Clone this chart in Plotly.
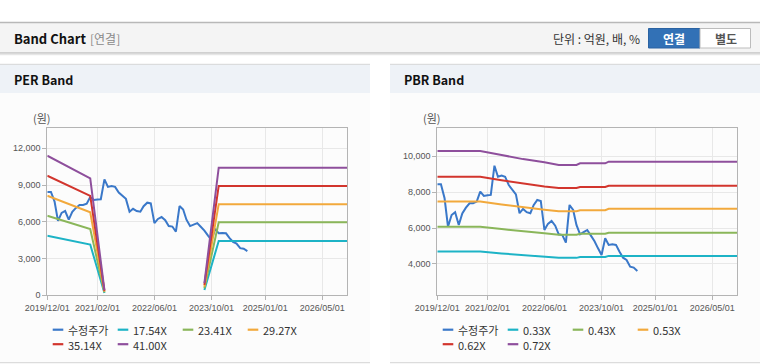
import pandas as pd
import plotly.graph_objects as go

# ---------------- data ----------------
price_start = "2019-12-01"
price = [8430, 8430, 7650, 6070, 6720, 6880, 6170, 6810, 7130, 7370, 7370, 7470,
         8020, 7780, 7820, 7840, 9460, 8850, 8910, 8850, 8390, 8110, 7870, 6820,
         7060, 6880, 6820, 7270, 7560, 7500, 5890, 6230, 6390, 6130, 5650, 5610,
         5190, 7280, 7000, 6170, 5650, 5770, 5890, 5590, 5280, 4870, 4500, 5430,
         5060, 5090, 5060, 4690, 4350, 4220, 3850, 3800, 3610]
price_dates = pd.date_range(price_start, periods=len(price), freq="MS")

per_names = ["17.54X", "23.41X", "29.27X", "35.14X", "41.00X"]
per_dates = ["2019-12-01", "2020-12-01", "2021-04-01", "2022-06-01",
             "2023-08-01", "2023-12-01", "2026-12-01"]
per_1754 = [4865, 4140, 180, None, 430, 4440, 4440]
per_2341 = [6498, 5400, 240, None, 570, 5960, 5960]
per_2927 = [8131, 6780, 300, None, 710, 7440, 7440]
per_3514 = [9763, 8120, 360, None, 850, 8930, 8930]
per_4100 = [11396, 9540, 420, None, 990, 10410, 10410]

pbr_names = ["0.33X", "0.43X", "0.53X", "0.62X", "0.72X"]
pbr_dates = ["2019-12-01", "2020-12-01", "2021-06-01", "2021-12-01", "2022-06-01",
             "2022-10-01", "2023-03-01", "2023-04-01", "2023-11-01", "2023-12-01",
             "2026-12-01"]
pbr_033 = [4690, 4690, 4587, 4484, 4404, 4340, 4340, 4385, 4385, 4450, 4450]
pbr_043 = [6075, 6075, 5941, 5808, 5704, 5630, 5630, 5680, 5680, 5740, 5740]
pbr_053 = [7470, 7470, 7306, 7141, 7014, 6930, 6930, 6990, 6990, 7070, 7070]
pbr_062 = [8850, 8850, 8655, 8461, 8310, 8220, 8220, 8280, 8280, 8345, 8345]
pbr_072 = [10280, 10280, 10054, 9828, 9653, 9500, 9500, 9591, 9591, 9684, 9684]

x_range = ["2019-12-01", "2026-12-01"]
x_tick_dates = ["2019-12-01", "2021-02-01", "2022-06-01", "2023-10-01", "2025-01-01", "2026-05-01"]
x_tick_labels = ["2019/12/01", "2021/02/01", "2022/06/01", "2023/10/01", "2025/01/01", "2026/05/01"]
per_y_ticks = [0, 3000, 6000, 9000, 12000]
pbr_y_ticks = [4000, 6000, 8000, 10000]
per_y_range = [0, 13630]
pbr_y_range = [2260, 11540]

price_name = "수정주가"
price_color = "#3a78c9"
band_colors = ["#1db3c6", "#8ab65a", "#f2a93c", "#d2352d", "#8e4f9c"]

# ---------------- layout helpers ----------------
W, H = 760, 364
def px(x):
    return x / W
def py(y):
    return 1 - y / H

FONT = "Noto Sans CJK KR"
TICKFONT = dict(family="Liberation Sans", size=9, color="#555555")

fig = go.Figure()

# PER traces
fig.add_trace(go.Scatter(x=price_dates, y=price, name=price_name, mode="lines",
                         line=dict(color=price_color, width=2), xaxis="x", yaxis="y",
                         showlegend=False))
for nm, vals, col in zip(per_names, [per_1754, per_2341, per_2927, per_3514, per_4100], band_colors):
    fig.add_trace(go.Scatter(x=per_dates, y=vals, name=nm, mode="lines",
                             line=dict(color=col, width=2), xaxis="x", yaxis="y",
                             connectgaps=False, showlegend=False))

# PBR traces
fig.add_trace(go.Scatter(x=price_dates, y=price, name=price_name, mode="lines",
                         line=dict(color=price_color, width=2), xaxis="x2", yaxis="y2",
                         showlegend=False))
for nm, vals, col in zip(pbr_names, [pbr_033, pbr_043, pbr_053, pbr_062, pbr_072], band_colors):
    fig.add_trace(go.Scatter(x=pbr_dates, y=vals, name=nm, mode="lines",
                             line=dict(color=col, width=2), xaxis="x2", yaxis="y2",
                             showlegend=False))

def xaxis_cfg(dom, anchor):
    return dict(domain=dom, anchor=anchor, type="date", range=x_range,
                tickvals=x_tick_dates, ticktext=x_tick_labels,
                showgrid=True, gridcolor="#e8e8e8", gridwidth=1,
                showline=True, linecolor="#b4b4b4", linewidth=1, mirror=True,
                ticks="outside", ticklen=4, tickcolor="#b4b4b4",
                tickfont=TICKFONT, zeroline=False, fixedrange=True, automargin=False)

def yaxis_cfg(dom, anchor, rng, tv):
    return dict(domain=dom, anchor=anchor, range=rng, tickvals=tv,
                tickformat=",d", showgrid=True, gridcolor="#e8e8e8", gridwidth=1,
                showline=True, linecolor="#b4b4b4", linewidth=1, mirror=True,
                ticks="outside", ticklen=4, tickcolor="#b4b4b4",
                tickfont=TICKFONT, zeroline=False, fixedrange=True, automargin=False)

ydom = [py(295.3), py(128.3)]
shapes = []
annotations = []

# top header bar
shapes.append(dict(type="rect", xref="paper", yref="paper", x0=0, x1=1, y0=py(53), y1=py(23),
                   fillcolor="#f4f4f4", line=dict(width=0), layer="below"))
shapes.append(dict(type="line", xref="paper", yref="paper", x0=0, x1=1, y0=py(22.5), y1=py(22.5),
                   line=dict(color="#b8b8b8", width=1.5), layer="below"))
shapes.append(dict(type="line", xref="paper", yref="paper", x0=0, x1=1, y0=py(53), y1=py(53),
                   line=dict(color="#c4c4c4", width=1.5), layer="below"))
shapes.append(dict(type="line", xref="paper", yref="paper", x0=0, x1=1, y0=py(54.5), y1=py(54.5),
                   line=dict(color="#e6e6e6", width=1.5), layer="below"))
annotations.append(dict(text="<b>Band Chart</b>", xref="paper", yref="paper", x=px(11.5), y=py(38.5),
                        xanchor="left", yanchor="middle", showarrow=False,
                        font=dict(family=FONT, size=13, color="#111111")))
annotations.append(dict(text="[연결]", xref="paper", yref="paper", x=px(88), y=py(38.5),
                        xanchor="left", yanchor="middle", showarrow=False,
                        font=dict(family=FONT, size=12, color="#8a8a8a")))
annotations.append(dict(text="단위 : 억원, 배, %", xref="paper", yref="paper", x=px(642), y=py(38.5),
                        xanchor="right", yanchor="middle", showarrow=False,
                        font=dict(family=FONT, size=12, color="#333333")))
# buttons
shapes.append(dict(type="rect", xref="paper", yref="paper", x0=px(648.5), x1=px(700), y0=py(48), y1=py(28.5),
                   fillcolor="#3271b6", line=dict(color="#2b63a2", width=1), layer="below"))
shapes.append(dict(type="rect", xref="paper", yref="paper", x0=px(700), x1=px(750.5), y0=py(48), y1=py(28.5),
                   fillcolor="#ffffff", line=dict(color="#bcbcbc", width=1), layer="below"))
annotations.append(dict(text="<b>연결</b>", xref="paper", yref="paper", x=px(674), y=py(38.5),
                        xanchor="center", yanchor="middle", showarrow=False,
                        font=dict(family=FONT, size=12, color="#ffffff")))
annotations.append(dict(text="<b>별도</b>", xref="paper", yref="paper", x=px(725.5), y=py(38.5),
                        xanchor="center", yanchor="middle", showarrow=False,
                        font=dict(family=FONT, size=12, color="#555555")))

# panels
for (x0, x1, title, plot_left, names) in [(0, 370, "PER Band", 47.3, per_names),
                                           (390, 760, "PBR Band", 437.3, pbr_names)]:
    shapes.append(dict(type="rect", xref="paper", yref="paper", x0=px(x0), x1=px(x1), y0=py(362), y1=py(93),
                       fillcolor="#fcfcfc", line=dict(width=0), layer="below"))
    shapes.append(dict(type="rect", xref="paper", yref="paper", x0=px(x0), x1=px(x1), y0=py(93), y1=py(64),
                       fillcolor="#eef2f7", line=dict(width=0), layer="below"))
    shapes.append(dict(type="line", xref="paper", yref="paper", x0=px(x0), x1=px(x1), y0=py(64.3), y1=py(64.3),
                       line=dict(color="#d6d6d6", width=1), layer="below"))
    shapes.append(dict(type="line", xref="paper", yref="paper", x0=px(x0), x1=px(x1), y0=py(362.7), y1=py(362.7),
                       line=dict(color="#dcdcdc", width=1.2), layer="below"))
    annotations.append(dict(text=f"<b>{title}</b>", xref="paper", yref="paper", x=px(x0 + 11.5), y=py(79),
                            xanchor="left", yanchor="middle", showarrow=False,
                            font=dict(family=FONT, size=12.5, color="#111111")))
    annotations.append(dict(text="(원)", xref="paper", yref="paper", x=px(plot_left - 5), y=py(118),
                            xanchor="center", yanchor="middle", showarrow=False,
                            font=dict(family=FONT, size=11, color="#555555")))
    # custom legend
    items = [(price_name, price_color)] + list(zip(names, band_colors))
    for i, (nm, col) in enumerate(items):
        r, c = divmod(i, 4)
        sx = plot_left + 5.4 + c * 65
        sy = 329.7 + r * 14.5
        shapes.append(dict(type="line", xref="paper", yref="paper", x0=px(sx), x1=px(sx + 10.6),
                           y0=py(sy), y1=py(sy), line=dict(color=col, width=2.2)))
        annotations.append(dict(text=nm, xref="paper", yref="paper", x=px(sx + 12.8), y=py(sy + 0.3),
                                xanchor="left", yanchor="middle", showarrow=False,
                                font=dict(family=FONT, size=11, color="#333333")))

fig.update_layout(
    width=W, height=H, margin=dict(l=0, r=0, t=0, b=0, pad=0, autoexpand=False),
    autosize=False,
    paper_bgcolor="#ffffff", plot_bgcolor="#ffffff",
    showlegend=False,
    xaxis=xaxis_cfg([px(47.3), px(347.3)], "y"),
    yaxis=yaxis_cfg(ydom, "x", per_y_range, per_y_ticks),
    xaxis2=xaxis_cfg([px(437.3), px(737.3)], "y2"),
    yaxis2=yaxis_cfg(ydom, "x2", pbr_y_range, pbr_y_ticks),
    shapes=shapes, annotations=annotations,
    font=dict(family=FONT),
)

fig.write_html("out.html", config={"responsive": False, "displayModeBar": False},
               post_script="document.body.style.margin='0';document.body.style.overflow='hidden';")
